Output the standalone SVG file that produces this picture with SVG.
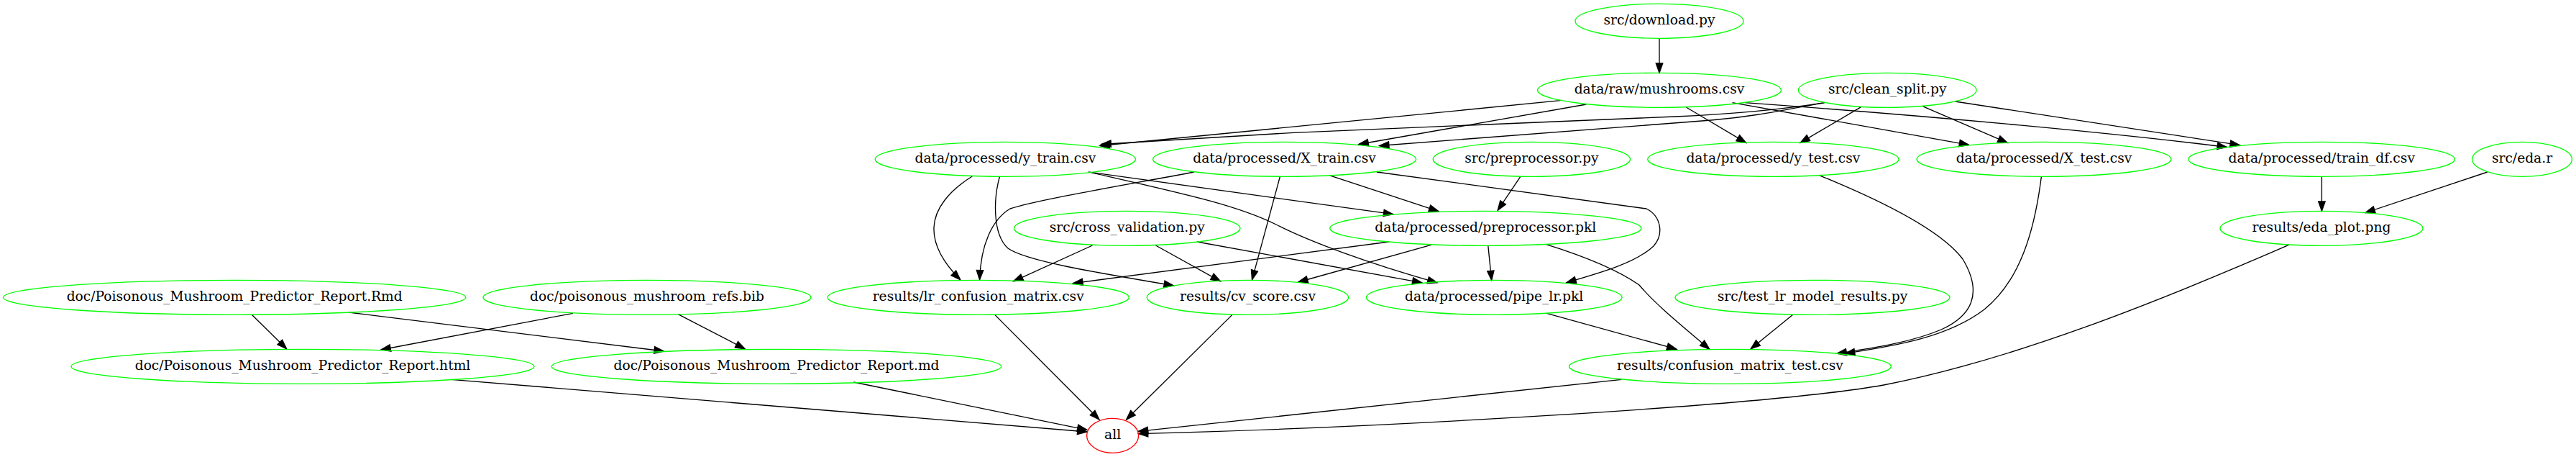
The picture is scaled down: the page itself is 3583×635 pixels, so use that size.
<svg xmlns="http://www.w3.org/2000/svg" width="3583" height="635" viewBox="0 0 3583 635">
<style>
.n ellipse{fill:none;stroke:#00ff00;stroke-width:1.33}
.n.r ellipse{stroke:#ff0000}
.n text{font-family:"DejaVu Serif","Liberation Serif",serif;font-size:18.67px;text-anchor:middle;fill:#000}
.e path{fill:none;stroke:#000;stroke-width:1.33;marker-end:url(#arr)}
</style>
<defs>
<marker id="arr" markerUnits="userSpaceOnUse" viewBox="-1 -1 16 12" markerWidth="16" markerHeight="12" refX="13.3" refY="4.7" orient="auto">
<path d="M0,0 L13.3,4.7 L0,9.4 z" fill="#000" stroke="#000" stroke-width="1.33"/>
</marker>
</defs>
<rect width="3583" height="635" fill="#fff"/>
<g id="edges" class="e">
<path d="M2308,53.3 L2308,101.3"/>
<path d="M2170.4,139.7 L1529.8,202.5"/>
<path d="M2537.8,142.6 C2480,152 2420,158 2330,162 L1800,184.3 L1532,200.5"/>
<path d="M2206.4,145 L1890,200.5"/>
<path d="M2537.8,142.6 C2480,153 2440,162 2380,167 L1918.6,202.5"/>
<path d="M2345.3,149 L2428.7,198.4"/>
<path d="M2409.6,142.6 L2738.6,201.3"/>
<path d="M2426.8,142.6 C2700,162 2950,186 3097.4,204.5"/>
<path d="M2588.6,148.6 L2504,198.4"/>
<path d="M2674.7,147.8 L2792.2,198.4"/>
<path d="M2719.5,141 L3115.3,201.7"/>
<path d="M3229.4,245.3 L3229.4,293.3"/>
<path d="M3459.9,239 L3290,295.6"/>
<path d="M2114.5,245.8 L2083.2,292.4"/>
<path d="M1849.7,243.8 L2000.9,293.6"/>
<path d="M1513.8,239 L1937.8,297.7"/>
<path d="M1517.6,239.7 C1650,270 1720,285 1775,312 C1820,335 1900,365 1999,392.8"/>
<path d="M1352.3,245 C1320,265 1300,290 1299,316 C1298,340 1312,365 1335.8,388.8"/>
<path d="M1390.6,245 C1382,275 1380,325 1402,345 C1425,362 1520,378 1632.4,396.9"/>
<path d="M1661,239 C1560,258 1440,278 1405,290 C1380,305 1364,340 1362.6,388.8"/>
<path d="M1780.5,245 L1741.5,388.8"/>
<path d="M1519.5,341 L1409.7,390.8"/>
<path d="M1607.5,341 L1697.5,390.8"/>
<path d="M1665,336 L1977.9,392.8"/>
<path d="M1932,336 L1492.7,393.6"/>
<path d="M1991.3,340.2 L1805.7,392"/>
<path d="M2069.8,341.4 L2074.7,389.6"/>
<path d="M2150,339.4 C2200,355 2250,375 2280,396 C2300,420 2330,445 2377.8,485.2"/>
<path d="M1914.8,239 L2290,290 C2310,300 2315,325 2300,342 C2275,365 2230,378 2178.8,392.8"/>
<path d="M2151.3,435.3 L2331.9,485.2"/>
<path d="M2530.9,243.8 C2620,280 2700,320 2730,360 C2760,410 2740,440 2700,458 C2660,475 2610,483 2555,491.2"/>
<path d="M2839.3,245.8 C2830,320 2810,390 2760,430 C2710,468 2640,480 2566.5,491.2"/>
<path d="M2493.4,437.4 L2435.2,484.8"/>
<path d="M350,437 L398.7,484.8"/>
<path d="M485.2,434 L923.3,488"/>
<path d="M797,435.3 L530,486"/>
<path d="M943.2,436.6 L1036.2,484.8"/>
<path d="M627.6,527.3 L1511.9,600"/>
<path d="M1187.4,531 L1511.9,597.3"/>
<path d="M1383.7,437.4 L1529,583"/>
<path d="M1713.9,437.4 L1566.6,583"/>
<path d="M2255.4,527.3 L1583.4,599.4"/>
<path d="M3184,340.2 C3000,420 2800,500 2620,535 C2450,565 1900,595 1583.4,602.6"/>
</g>
<g id="n_download" class="n"><ellipse cx="2308" cy="29.3" rx="117" ry="24"/><text x="2308" y="34.3">src/download.py</text></g>
<g id="n_mushrooms" class="n"><ellipse cx="2308" cy="125.3" rx="169.5" ry="24"/><text x="2308" y="130.3">data/raw/mushrooms.csv</text></g>
<g id="n_clean_split" class="n"><ellipse cx="2625.2" cy="125.3" rx="123.8" ry="24"/><text x="2625.2" y="130.3">src/clean_split.py</text></g>
<g id="n_y_train" class="n"><ellipse cx="1398.4" cy="221.3" rx="181.2" ry="24"/><text x="1398.4" y="226.3">data/processed/y_train.csv</text></g>
<g id="n_X_train" class="n"><ellipse cx="1786.6" cy="221.3" rx="183" ry="24"/><text x="1786.6" y="226.3">data/processed/X_train.csv</text></g>
<g id="n_preprocessor_py" class="n"><ellipse cx="2130.4" cy="221.3" rx="137.2" ry="24"/><text x="2130.4" y="226.3">src/preprocessor.py</text></g>
<g id="n_y_test" class="n"><ellipse cx="2466.4" cy="221.3" rx="174.7" ry="24"/><text x="2466.4" y="226.3">data/processed/y_test.csv</text></g>
<g id="n_X_test" class="n"><ellipse cx="2843" cy="221.3" rx="177" ry="24"/><text x="2843" y="226.3">data/processed/X_test.csv</text></g>
<g id="n_train_df" class="n"><ellipse cx="3229.2" cy="221.3" rx="185.3" ry="24"/><text x="3229.2" y="226.3">data/processed/train_df.csv</text></g>
<g id="n_eda_r" class="n"><ellipse cx="3508" cy="221.3" rx="69.4" ry="24"/><text x="3508" y="226.3">src/eda.r</text></g>
<g id="n_cross_validation" class="n"><ellipse cx="1567.7" cy="317.3" rx="157.3" ry="24"/><text x="1567.7" y="322.3">src/cross_validation.py</text></g>
<g id="n_preprocessor_pkl" class="n"><ellipse cx="2066.3" cy="317.3" rx="216.6" ry="24"/><text x="2066.3" y="322.3">data/processed/preprocessor.pkl</text></g>
<g id="n_eda_plot" class="n"><ellipse cx="3229" cy="317.3" rx="141" ry="24"/><text x="3229" y="322.3">results/eda_plot.png</text></g>
<g id="n_rmd" class="n"><ellipse cx="326.2" cy="413.3" rx="321.6" ry="24"/><text x="326.2" y="418.3">doc/Poisonous_Mushroom_Predictor_Report.Rmd</text></g>
<g id="n_refs" class="n"><ellipse cx="900" cy="413.3" rx="228" ry="24"/><text x="900" y="418.3">doc/poisonous_mushroom_refs.bib</text></g>
<g id="n_lr_confusion" class="n"><ellipse cx="1360.7" cy="413.3" rx="209.7" ry="24"/><text x="1360.7" y="418.3">results/lr_confusion_matrix.csv</text></g>
<g id="n_cv_score" class="n"><ellipse cx="1735.5" cy="413.3" rx="140.2" ry="24"/><text x="1735.5" y="418.3">results/cv_score.csv</text></g>
<g id="n_pipe_lr" class="n"><ellipse cx="2078.2" cy="413.3" rx="177.9" ry="24"/><text x="2078.2" y="418.3">data/processed/pipe_lr.pkl</text></g>
<g id="n_test_lr" class="n"><ellipse cx="2521" cy="413.3" rx="191" ry="24"/><text x="2521" y="418.3">src/test_lr_model_results.py</text></g>
<g id="n_html" class="n"><ellipse cx="421" cy="509.3" rx="322" ry="24"/><text x="421" y="514.3">doc/Poisonous_Mushroom_Predictor_Report.html</text></g>
<g id="n_md" class="n"><ellipse cx="1080" cy="509.3" rx="312.7" ry="24"/><text x="1080" y="514.3">doc/Poisonous_Mushroom_Predictor_Report.md</text></g>
<g id="n_confusion_test" class="n"><ellipse cx="2406.5" cy="509.3" rx="223.9" ry="24"/><text x="2406.5" y="514.3">results/confusion_matrix_test.csv</text></g>
<g id="n_all" class="n r"><ellipse cx="1547.6" cy="605.3" rx="36" ry="24"/><text x="1547.6" y="610.3">all</text></g>
</svg>
